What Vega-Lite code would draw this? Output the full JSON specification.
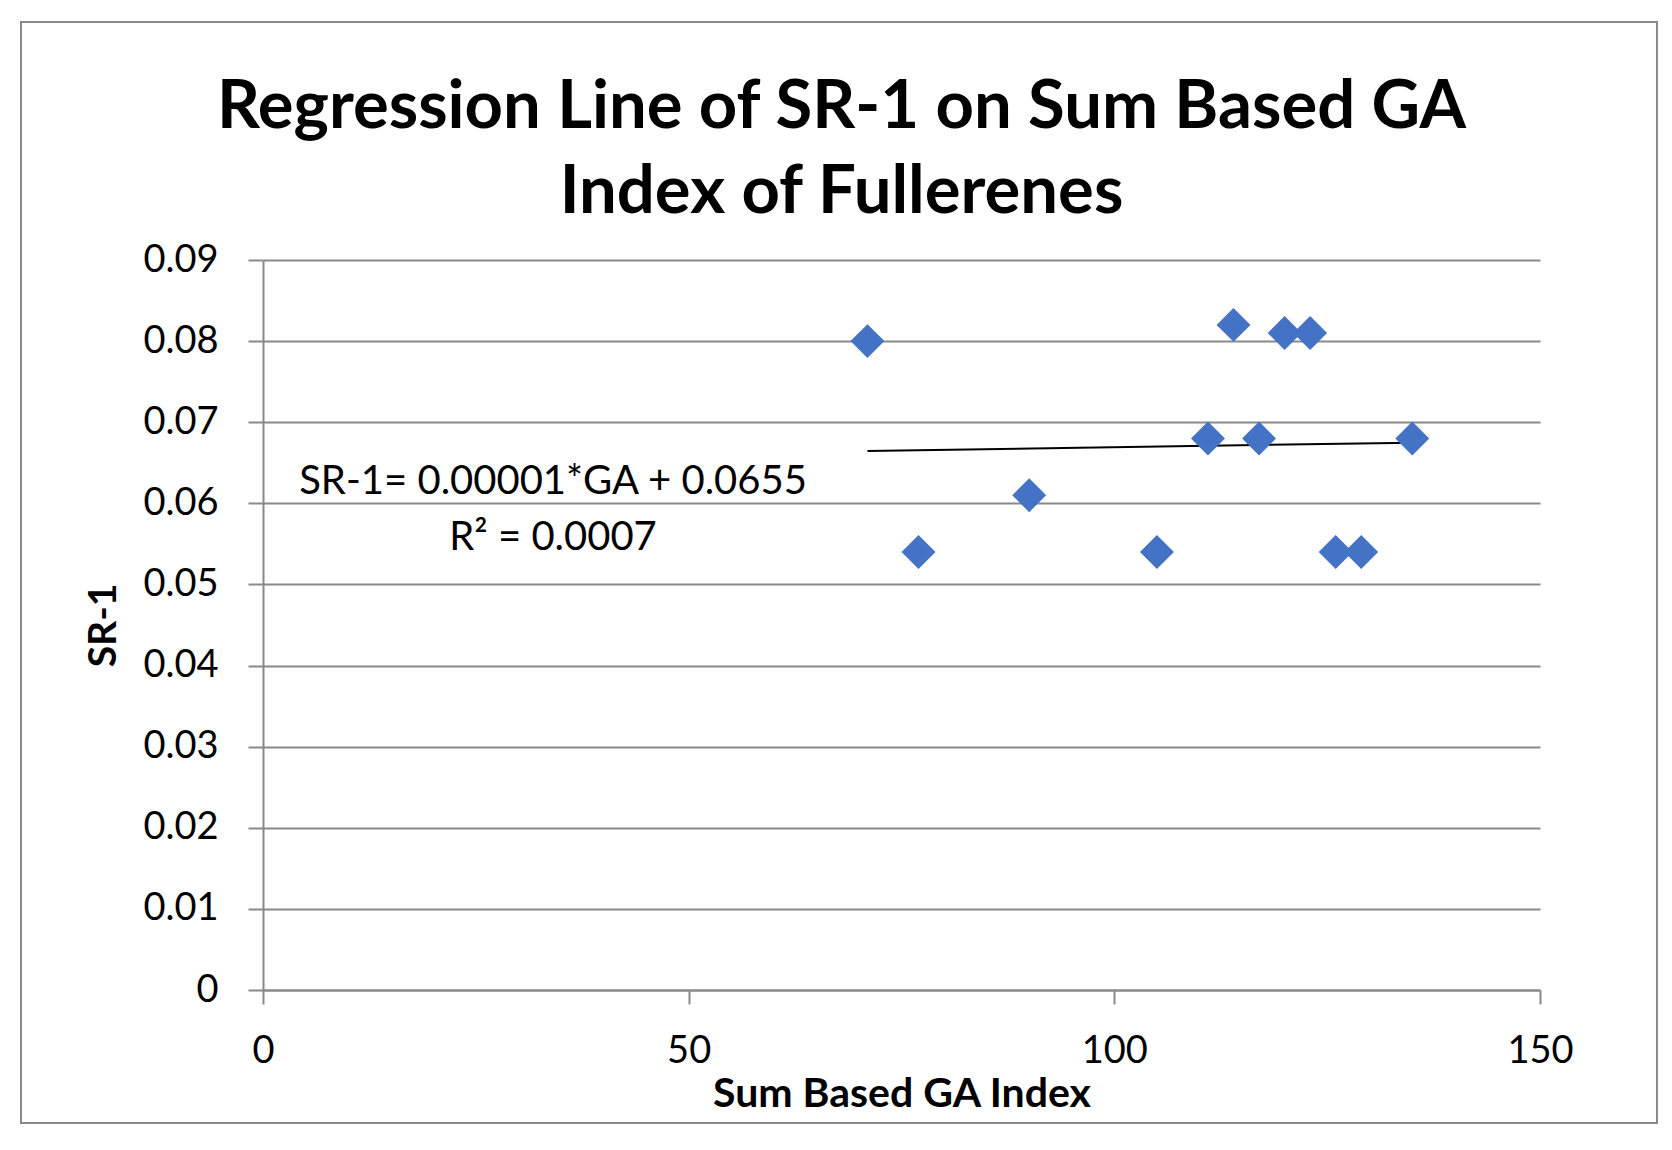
{
  "$schema": "https://vega.github.io/schema/vega-lite/v6.json",
  "width": 1277,
  "height": 730,
  "autosize": {"type": "none"},
  "padding": {"left": 263, "top": 260, "right": 132, "bottom": 160},
  "background": "white",
  "config": {"view": {"stroke": null}, "font": "Lato"},
  "title": {
    "text": ["Regression Line of SR-1 on Sum Based GA", "Index of Fullerenes"],
    "font": "Lato",
    "fontSize": 67,
    "fontWeight": "bold",
    "color": "black",
    "lineHeight": 85,
    "anchor": "middle",
    "frame": "group",
    "baseline": "alphabetic",
    "offset": 0,
    "dx": -60,
    "dy": 259
  },
  "datasets": {
    "points": [
      {"GA": 71, "SR": 0.080},
      {"GA": 77, "SR": 0.054},
      {"GA": 90, "SR": 0.061},
      {"GA": 105, "SR": 0.054},
      {"GA": 111, "SR": 0.068},
      {"GA": 114, "SR": 0.082},
      {"GA": 117, "SR": 0.068},
      {"GA": 120, "SR": 0.081},
      {"GA": 123, "SR": 0.081},
      {"GA": 126, "SR": 0.054},
      {"GA": 129, "SR": 0.054},
      {"GA": 135, "SR": 0.068}
    ],
    "fit": [
      {"GA": 71, "SR": 0.06645},
      {"GA": 135, "SR": 0.06748}
    ]
  },
  "layer": [
    {
      "data": {"values": [{}]},
      "mark": {"type": "rect", "fill": null, "stroke": "#898989", "strokeWidth": 2, "clip": false},
      "encoding": {
        "x": {"datum": -28.43, "type": "quantitative", "scale": {"domain": [0, 150], "nice": false, "zero": false}},
        "x2": {"datum": 163.74},
        "y": {"datum": -0.0164, "type": "quantitative", "scale": {"domain": [0, 0.09], "nice": false, "zero": false}},
        "y2": {"datum": 0.11934}
      }
    },
    {
      "data": {"name": "fit"},
      "mark": {"type": "line", "color": "black", "strokeWidth": 2},
      "encoding": {
        "x": {"field": "GA", "type": "quantitative"},
        "y": {"field": "SR", "type": "quantitative"}
      }
    },
    {
      "data": {"name": "points"},
      "mark": {"type": "point", "shape": "diamond", "filled": true, "size": 1150, "color": "#4472C4", "opacity": 1, "strokeWidth": 0},
      "encoding": {
        "x": {
          "field": "GA",
          "type": "quantitative",
          "scale": {"domain": [0, 150], "nice": false, "zero": false},
          "axis": {
            "title": "Sum Based GA Index",
            "values": [0, 50, 100, 150],
            "grid": false,
            "domainColor": "#898989",
            "domainWidth": 2,
            "tickColor": "#898989",
            "tickWidth": 2,
            "tickSize": 14,
            "labelFlush": false,
            "labelFont": "Lato",
            "labelFontSize": 38,
            "labelColor": "black",
            "labelPadding": 28,
            "titleFont": "Lato",
            "titleFontSize": 41,
            "titleFontWeight": "bold",
            "titleColor": "black",
            "titlePadding": 4
          }
        },
        "y": {
          "field": "SR",
          "type": "quantitative",
          "scale": {"domain": [0, 0.09], "nice": false, "zero": false},
          "axis": {
            "title": "SR-1",
            "values": [0, 0.01, 0.02, 0.03, 0.04, 0.05, 0.06, 0.07, 0.08, 0.09],
            "format": ".2~f",
            "grid": true,
            "gridColor": "#898989",
            "gridWidth": 2,
            "domainColor": "#898989",
            "domainWidth": 2,
            "tickColor": "#898989",
            "tickWidth": 2,
            "tickSize": 15,
            "labelFlush": false,
            "labelFont": "Lato",
            "labelFontSize": 38,
            "labelColor": "black",
            "labelPadding": 30,
            "titleFont": "Lato",
            "titleFontSize": 39,
            "titleFontWeight": "bold",
            "titleColor": "black",
            "titlePadding": 19
          }
        }
      }
    },
    {
      "data": {"values": [{}]},
      "mark": {
        "type": "text",
        "text": ["SR-1= 0.00001*GA + 0.0655", "R² = 0.0007"],
        "font": "Lato",
        "fontSize": 40,
        "color": "black",
        "align": "center",
        "baseline": "alphabetic",
        "lineHeight": 56
      },
      "encoding": {
        "x": {"datum": 34.07, "type": "quantitative"},
        "y": {"datum": 0.06115, "type": "quantitative"}
      }
    }
  ]
}
